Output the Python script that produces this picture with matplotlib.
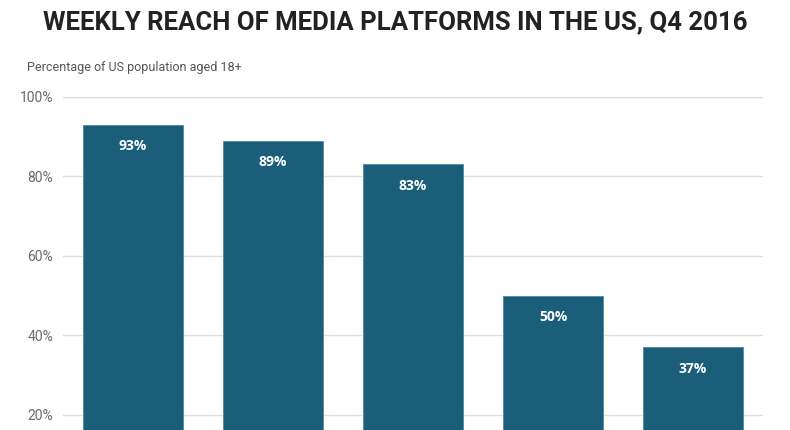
import matplotlib.pyplot as plt
import numpy as np

# data (category names fall below the visible area)
platforms = ['Radio', 'TV', 'Smartphone', 'PC', 'Tablet']
reach = [93, 89, 83, 50, 37]
yticks = [20, 40, 60, 80, 100]

plt.rcParams['font.family'] = ['Roboto', 'DejaVu Sans']

fig = plt.figure(figsize=(7.9, 4.3), dpi=100)
# axes run past the bottom of the figure, like the cropped original
ax = fig.add_axes([63/790, -64/430, 700/790, 397/430])

x = np.arange(len(platforms))
ax.bar(x, reach, width=0.714, color='#1a5e7a', edgecolor='#4f8aa3', linewidth=0.6, zorder=2)
for xi, v in zip(x, reach):
    ax.annotate(f'{v}%', (xi, v), xytext=(0, -15.5), textcoords='offset points',
                ha='center', va='center', color='white', fontsize=10, fontweight='bold',
                family=['Open Sans', 'DejaVu Sans'])

ax.set_xlim(-0.5, 4.5)
ax.set_ylim(0, 100)
ax.set_yticks(yticks)
ax.set_yticklabels([f'{t}%' for t in yticks], color='#6a6a6a', fontsize=10)
ax.set_xticks([])
ax.grid(axis='y', color='#dddddd', linewidth=1, zorder=0)
ax.tick_params(axis='y', length=0, pad=7)
for s in ax.spines.values():
    s.set_visible(False)

fig.text(0.5, 1 - 22/430, 'WEEKLY REACH OF MEDIA PLATFORMS IN THE US, Q4 2016',
         ha='center', va='center', fontsize=18.5, fontweight='bold', color='#222222')
fig.text(27/790, 1 - 67/430, 'Percentage of US population aged 18+',
         ha='left', va='center', fontsize=9, color='#555555')

fig.savefig('out.png', dpi=100)
